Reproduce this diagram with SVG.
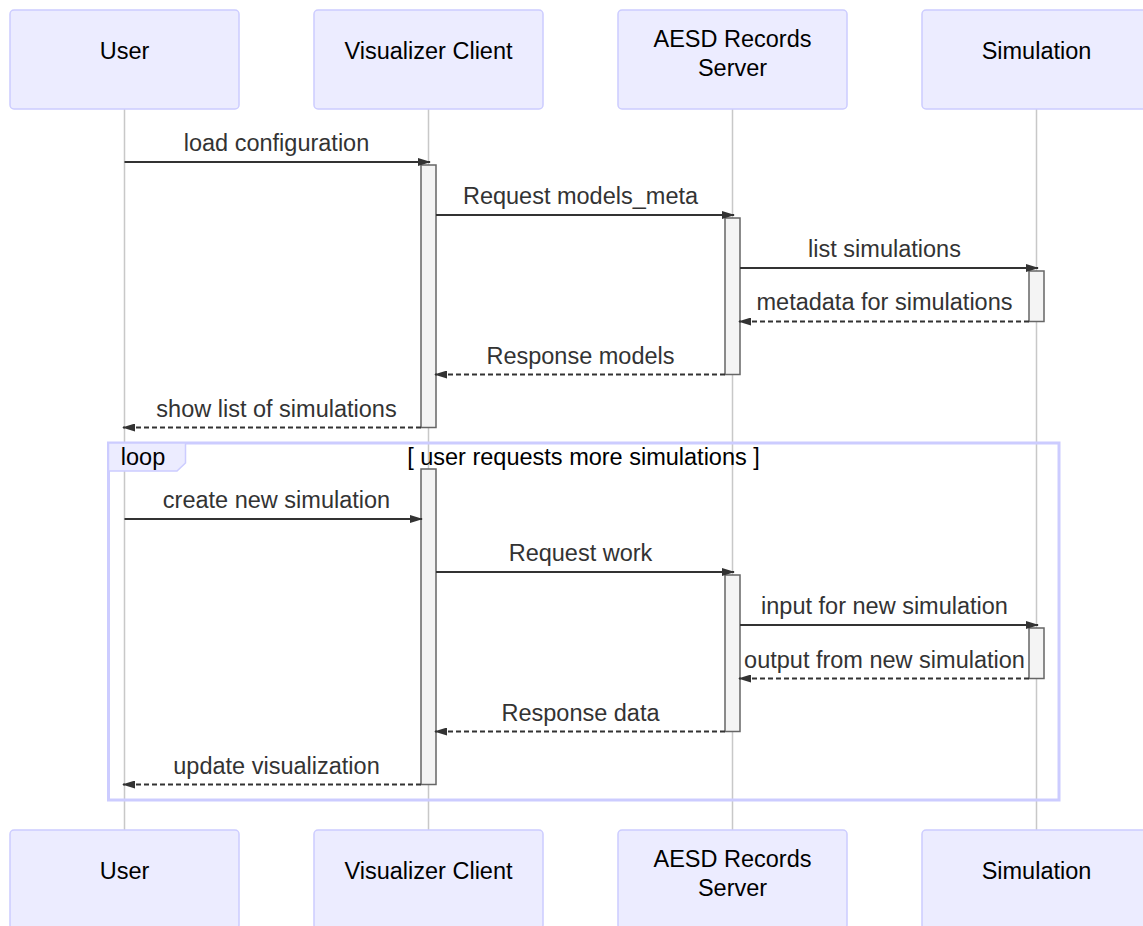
<svg xmlns="http://www.w3.org/2000/svg" width="1143" height="926" viewBox="0 0 1143 926">
  <style>
    .actor { fill: #ECECFF; stroke: #CCCCFF; stroke-width: 1.5; }
    .actor-text { font-family: "Liberation Sans", Arial, sans-serif; font-size: 23.5px; fill: #000; text-anchor: middle; }
    .lifeline { stroke: #c8c8c8; stroke-width: 1.5; }
    .activation { fill: #f4f4f4; stroke: #666; stroke-width: 1.5; }
    .msg { stroke: #333; stroke-width: 2; fill: none; marker-end: url(#arrowhead); }
    .dashed { stroke-dasharray: 5 3; }
    .msg-text { font-family: "Liberation Sans", Arial, sans-serif; font-size: 23.5px; fill: #333; text-anchor: middle; }
    .loop { fill: none; stroke: #CCCCFF; stroke-width: 3; }
    .loop-label { fill: #ECECFF; stroke: #CCCCFF; stroke-width: 1.5; }
    .loop-text { font-family: "Liberation Sans", Arial, sans-serif; font-size: 23.5px; fill: #000; }
  </style>
  <defs>
    <marker id="arrowhead" markerUnits="userSpaceOnUse" viewBox="0 0 13 8" refX="12" refY="4" markerWidth="13" markerHeight="8" orient="auto">
      <path d="M0,0 L13,4 L0,8 z" fill="#333"/>
    </marker>
  </defs>

  <rect width="1143" height="926" fill="#ffffff"/>

  <!-- lifelines -->
  <g id="lifelines">
    <line class="lifeline" x1="124.5" y1="109" x2="124.5" y2="830"/>
    <line class="lifeline" x1="428.5" y1="109" x2="428.5" y2="830"/>
    <line class="lifeline" x1="732.5" y1="109" x2="732.5" y2="830"/>
    <line class="lifeline" x1="1036.5" y1="109" x2="1036.5" y2="830"/>
  </g>

  <!-- loop frame -->
  <g id="loop">
    <rect class="loop" x="108.5" y="443" width="950.5" height="357"/>
    <polygon class="loop-label" points="108.5,443 185.5,443 185.5,463 177,471 108.5,471"/>
    <text class="loop-text" x="143" y="465" text-anchor="middle">loop</text>
    <text class="loop-text" x="583.5" y="465" text-anchor="middle">[ user requests more simulations ]</text>
  </g>

  <!-- activation bars -->
  <g id="activations">
    <rect class="activation" x="421" y="165" width="15" height="262.5"/>
    <rect class="activation" x="725" y="218" width="15" height="156.5"/>
    <rect class="activation" x="1029" y="271" width="15" height="50.5"/>
    <rect class="activation" x="421" y="469" width="15" height="315.5"/>
    <rect class="activation" x="725" y="575" width="15" height="156.5"/>
    <rect class="activation" x="1029" y="628" width="15" height="50.5"/>
  </g>

  <!-- messages -->
  <g id="connectors">
    <line class="msg" x1="124.5" y1="162" x2="430" y2="162"/>
    <text class="msg-text" x="276.5" y="151">load configuration</text>

    <line class="msg" x1="436" y1="215" x2="734" y2="215"/>
    <text class="msg-text" x="580.5" y="204">Request models_meta</text>

    <line class="msg" x1="740" y1="268" x2="1038" y2="268"/>
    <text class="msg-text" x="884.5" y="257">list simulations</text>

    <line class="msg dashed" x1="1029" y1="321.5" x2="739" y2="321.5"/>
    <text class="msg-text" x="884.5" y="310">metadata for simulations</text>

    <line class="msg dashed" x1="725" y1="374.5" x2="435" y2="374.5"/>
    <text class="msg-text" x="580.5" y="363.5">Response models</text>

    <line class="msg dashed" x1="421" y1="427.5" x2="123" y2="427.5"/>
    <text class="msg-text" x="276.5" y="416.5">show list of simulations</text>

    <line class="msg" x1="124.5" y1="519" x2="422" y2="519"/>
    <text class="msg-text" x="276.5" y="508">create new simulation</text>

    <line class="msg" x1="436" y1="572" x2="734" y2="572"/>
    <text class="msg-text" x="580.5" y="561">Request work</text>

    <line class="msg" x1="740" y1="625" x2="1038" y2="625"/>
    <text class="msg-text" x="884.5" y="614">input for new simulation</text>

    <line class="msg dashed" x1="1029" y1="678.5" x2="739" y2="678.5"/>
    <text class="msg-text" x="884.5" y="667.5">output from new simulation</text>

    <line class="msg dashed" x1="725" y1="731.5" x2="435" y2="731.5"/>
    <text class="msg-text" x="580.5" y="720.5">Response data</text>

    <line class="msg dashed" x1="421" y1="784.5" x2="123" y2="784.5"/>
    <text class="msg-text" x="276.5" y="773.5">update visualization</text>
  </g>

  <!-- participants, top row -->
  <g id="actor-user-top">
    <rect class="actor" x="10" y="10" width="229" height="99" rx="4"/>
    <text class="actor-text" x="124.5" y="59.3">User</text>
  </g>
  <g id="actor-client-top">
    <rect class="actor" x="314" y="10" width="229" height="99" rx="4"/>
    <text class="actor-text" x="428.5" y="59.3">Visualizer Client</text>
  </g>
  <g id="actor-server-top">
    <rect class="actor" x="618" y="10" width="229" height="99" rx="4"/>
    <text class="actor-text" x="732.5" y="46.7">AESD Records</text>
    <text class="actor-text" x="732.5" y="75.5">Server</text>
  </g>
  <g id="actor-simulation-top">
    <rect class="actor" x="922" y="10" width="229" height="99" rx="4"/>
    <text class="actor-text" x="1036.5" y="59.3">Simulation</text>
  </g>

  <!-- participants, bottom row -->
  <g id="actor-user-bottom">
    <rect class="actor" x="10" y="830" width="229" height="99" rx="4"/>
    <text class="actor-text" x="124.5" y="879.3">User</text>
  </g>
  <g id="actor-client-bottom">
    <rect class="actor" x="314" y="830" width="229" height="99" rx="4"/>
    <text class="actor-text" x="428.5" y="879.3">Visualizer Client</text>
  </g>
  <g id="actor-server-bottom">
    <rect class="actor" x="618" y="830" width="229" height="99" rx="4"/>
    <text class="actor-text" x="732.5" y="866.7">AESD Records</text>
    <text class="actor-text" x="732.5" y="895.5">Server</text>
  </g>
  <g id="actor-simulation-bottom">
    <rect class="actor" x="922" y="830" width="229" height="99" rx="4"/>
    <text class="actor-text" x="1036.5" y="879.3">Simulation</text>
  </g>
</svg>
